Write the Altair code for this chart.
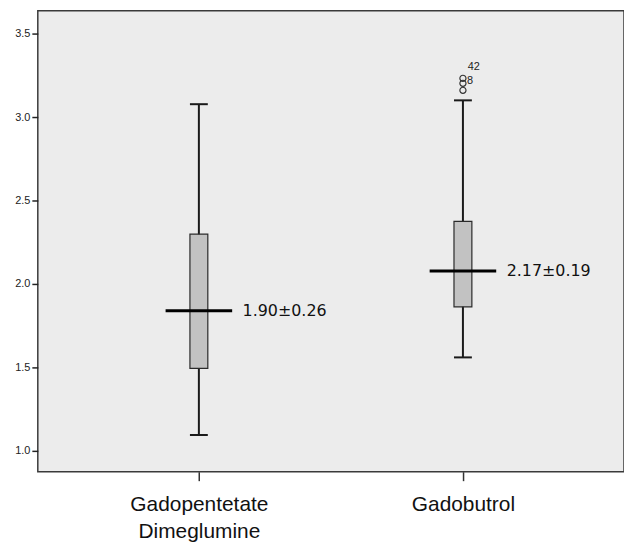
import altair as alt
import pandas as pd

groups = ["Gadopentetate|Dimeglumine", "Gadobutrol"]
whisker_low = [1.095, 1.56]
q1 = [1.494, 1.863]
median = [1.84, 2.077]
q3 = [2.298, 2.375]
whisker_high = [3.077, 3.10]
annotations = ["1.90±0.26", "2.17±0.19"]

outlier_group = ["Gadobutrol", "Gadobutrol", "Gadobutrol"]
outlier_values = [3.16, 3.202, 3.232]
outlier_labels = ["", "8", "42"]

box_df = pd.DataFrame({
    "group": groups, "lo": whisker_low, "q1": q1, "med": median,
    "q3": q3, "hi": whisker_high, "ann": annotations,
})
out_df = pd.DataFrame({"group": outlier_group, "v": outlier_values, "lab": outlier_labels})

ydom = [0.875, 3.637]
xenc = alt.X("group:N", sort=groups, title=None,
             scale=alt.Scale(type="point", padding=0.61),
             axis=alt.Axis(labelExpr="split(datum.label, '|')", labelAngle=0,
                           labelFontSize=21, labelFont="Liberation Sans",
                           labelColor="#111", labelLineHeight=27,
                           labelPadding=13, tickSize=9, tickColor="#333",
                           tickWidth=1.5, domain=False, labelBaseline="top"))
yscale = alt.Scale(domain=ydom, nice=False, zero=False)
yaxis = alt.Axis(values=[1.0, 1.5, 2.0, 2.5, 3.0, 3.5], format=".1f", title=None,
                 labelFontSize=11, labelFont="Liberation Sans", labelColor="#222",
                 tickSize=6, tickColor="#222", tickWidth=1.5, domain=False,
                 grid=False, labelPadding=2)

base = alt.Chart(box_df)

whisk = base.mark_rule(color="#1a1a1a", strokeWidth=2).encode(
    x=xenc, y=alt.Y("lo:Q", scale=yscale, axis=yaxis), y2="hi:Q")
caps_lo = base.mark_tick(color="#1a1a1a", size=18, thickness=2, opacity=1).encode(
    x=xenc, y=alt.Y("lo:Q", scale=yscale))
caps_hi = base.mark_tick(color="#1a1a1a", size=18, thickness=2, opacity=1).encode(
    x=xenc, y=alt.Y("hi:Q", scale=yscale))
box = base.mark_bar(size=18, color="#c2c2c2", stroke="#2a2a2a", strokeWidth=1.2).encode(
    x=xenc, y=alt.Y("q1:Q", scale=yscale), y2="q3:Q")
med = base.mark_tick(color="#000", size=67, thickness=3, opacity=1).encode(
    x=xenc, y=alt.Y("med:Q", scale=yscale))
ann = base.mark_text(align="left", baseline="middle", dx=44, fontSize=16,
                     font="DejaVu Sans", color="#111").encode(
    x=xenc, y=alt.Y("med:Q", scale=yscale), text="ann:N")

outs = alt.Chart(out_df).mark_point(shape="circle", size=38, color="#333",
                                    filled=False, strokeWidth=1.2, opacity=1).encode(
    x=xenc, y=alt.Y("v:Q", scale=yscale))
lab8 = alt.Chart(out_df).transform_filter("datum.lab == '8'").mark_text(
    align="left", baseline="middle", dx=4, dy=-2, fontSize=11,
    font="Liberation Sans", color="#222").encode(
    x=xenc, y=alt.Y("v:Q", scale=yscale), text="lab:N")
lab42 = alt.Chart(out_df).transform_filter("datum.lab == '42'").mark_text(
    align="center", baseline="middle", dx=11, dy=-11, fontSize=11,
    font="Liberation Sans", color="#222").encode(
    x=xenc, y=alt.Y("v:Q", scale=yscale), text="lab:N")

chart = alt.layer(whisk, caps_lo, caps_hi, box, med, ann, outs, lab8, lab42).properties(
    width=590, height=464,
    autosize=alt.AutoSizeParams(type="none"),
    padding={"left": 30, "top": 1, "right": 0, "bottom": 71},
    background="white",
).configure_view(fill="#ececec", stroke="#3a3a3a", strokeWidth=1.5)

chart.save("out.html", embed_options={"renderer": "svg", "actions": False})
